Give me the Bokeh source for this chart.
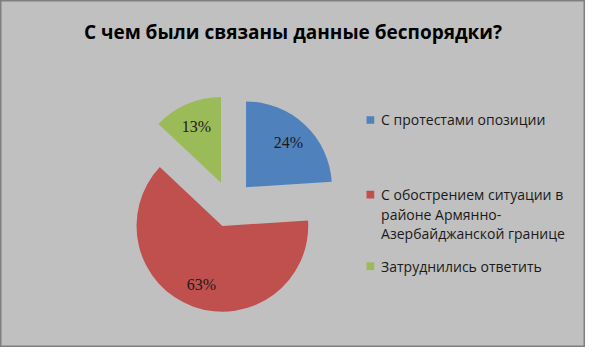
import math
from bokeh.plotting import figure
from bokeh.models import Range1d, ColumnDataSource
from bokeh.core.properties import value
from bokeh.embed import file_html
from bokeh.resources import INLINE

# ---- data ----
title_text = "С чем были связаны данные беспорядки?"
categories = [
    "С протестами опозиции",
    "С обострением ситуации в\nрайоне Армянно-\nАзербайджанской границе",
    "Затруднились ответить",
]
values = [24, 63, 13]
colors = ["#4f81bd", "#c0504d", "#9bbb59"]

# ---- layout ----
W, H = 585, 347
REF_W, REF_H = 601, 363
sx, sy = W / REF_W, H / REF_H
s = (sx + sy) / 2

def fx(X):
    return X * sx

def fy(Y):
    return H - Y * sy

cx, cy = fx(236), fy(213)
R = 89 * s
EXPLODE = 24 * s
LABEL_R = 0.72 * R

p = figure(width=W, height=H, output_backend="svg", toolbar_location=None,
           x_range=Range1d(0, W), y_range=Range1d(0, H), min_border=0)
p.axis.visible = False
p.grid.visible = False
p.background_fill_color = "#c0c0c0"
p.border_fill_color = "#c0c0c0"
p.outline_line_color = "#7f7f7f"
p.outline_line_width = 2

total = sum(values)
xs, ys, starts, ends, lx, ly, labels = [], [], [], [], [], [], []
acc = 0.0
for v in values:
    t0 = acc / total * 360.0
    t1 = (acc + v) / total * 360.0
    tm = math.radians((t0 + t1) / 2)
    ox = cx + EXPLODE * math.sin(tm)
    oy = cy + EXPLODE * math.cos(tm)
    xs.append(ox)
    ys.append(oy)
    starts.append(math.radians(90 - t0))
    ends.append(math.radians(90 - t1))
    lx.append(ox + LABEL_R * math.sin(tm))
    ly.append(oy + LABEL_R * math.cos(tm))
    labels.append(f"{round(v / total * 100)}%")
    acc += v

src = ColumnDataSource(dict(x=xs, y=ys, start=starts, end=ends, color=colors))
p.wedge(x="x", y="y", radius=R, start_angle="start", end_angle="end",
        direction="clock", fill_color="color", line_color=None, source=src)

p.text(x=lx, y=ly, text=labels, text_font=value("Liberation Serif"),
       text_font_size="16px", text_color="#1a1a1a", text_align="center",
       text_baseline="middle")

# title
p.text(x=[fx(300.5)], y=[fy(33)], text=[title_text], text_font=value("Open Sans"),
       text_font_size="19px", text_font_style="bold", text_color="#000000",
       text_align="center", text_baseline="middle")

# legend
row_y = [125, 203, 278]
line_gap = 20.5
sq_x, txt_x = 380, 391
tx, ty, tt = [], [], []
for cat, ry in zip(categories, row_y):
    for i, line in enumerate(cat.split("\n")):
        tx.append(fx(txt_x))
        ty.append(fy(ry + i * line_gap))
        tt.append(line)
p.rect(x=[fx(sq_x)] * 3, y=[fy(r) for r in row_y], width=8 * s, height=8 * s,
       fill_color=colors, line_color=None)
p.text(x=tx, y=ty, text=tt, text_font=value("Open Sans"), text_font_size="14px",
       text_color="#1a1a1a", text_align="left", text_baseline="middle")

open("out.html", "w").write(file_html(p, INLINE))
